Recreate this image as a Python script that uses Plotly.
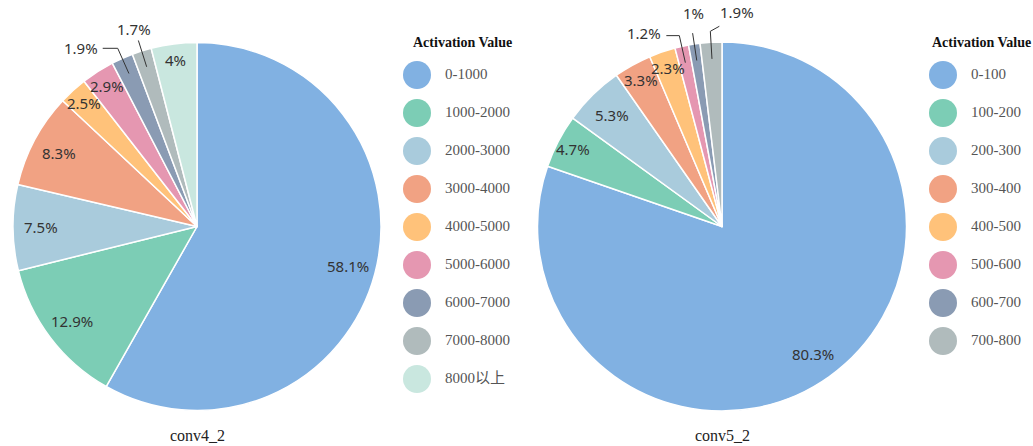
import math
import plotly.graph_objects as go

W, H = 1033, 446

# ---- data -------------------------------------------------------------
ranges4 = ["0-1000", "1000-2000", "2000-3000", "3000-4000", "4000-5000",
           "5000-6000", "6000-7000", "7000-8000", "8000以上"]
share4 = [58.1, 12.9, 7.5, 8.3, 2.5, 2.9, 1.9, 1.7, 4]

ranges5 = ["0-100", "100-200", "200-300", "300-400", "400-500",
           "500-600", "600-700", "700-800"]
share5 = [80.3, 4.7, 5.3, 3.3, 2.3, 1.2, 1, 1.9]

titles = ["conv4_2", "conv5_2"]
legend_title = "Activation Value"

# ---- styling ----------------------------------------------------------
palette = ["#81B1E2", "#7CCDB5", "#A9CBDC", "#F1A283", "#FFC27A",
           "#E597B1", "#8A9BB3", "#B0BBBC", "#C9E7DF"]
SANS = "Noto Sans, Open Sans, sans-serif"
SERIF = "Liberation Serif, Times New Roman, Noto Sans CJK SC, serif"

# pie placement in pixels (centre, radius)
PIES = [dict(cx=197, cy=226.5, r=184), dict(cx=722, cy=226.5, r=184.5)]
# legend placement in pixels
LEG_X = [417, 943]
LEG_TEXT_GAP = 28
LEG_TOP, LEG_STEP = 75, 38
LEG_TITLE_X = [462, 981]

# callout labels for the thin slices: (elbow offset, text offset, xanchor, yanchor)
CALLOUTS = [
    {"6000-7000": ((-15, 0), (-3, 0), "right", "middle"),
     "7000-8000": ((0, 0), (-4, 1), "center", "bottom")},
    {"500-600": ((-13, 0), (-3, -3), "right", "middle"),
     "600-700": ((0, 0), (1, -8), "center", "bottom"),
     "700-800": ((9, -5), (-1, -2), "left", "bottom")},
]


def px2paper(x, y):
    return x / W, 1 - y / H


def polar(pie, theta, frac):
    return (pie["cx"] + frac * pie["r"] * math.sin(theta),
            pie["cy"] - frac * pie["r"] * math.cos(theta))


def mid_angles(values):
    total = sum(values)
    out, cum = [], 0.0
    for v in values:
        out.append((cum + v / 2) / total * 2 * math.pi)
        cum += v
    return out


def pct(v):
    return f"{v:g}%"


def note(x, y, text, font, xanchor="center", yanchor="middle"):
    return dict(x=x, y=y, xref="paper", yref="paper", text=text, showarrow=False,
                xanchor=xanchor, yanchor=yanchor, font=font)


fig = go.Figure()
annotations, shapes = [], []
label_font = dict(family=SANS, size=15, color="#333333")

for k, (cats, vals) in enumerate([(ranges4, share4), (ranges5, share5)]):
    pie = PIES[k]
    x0, y1 = px2paper(pie["cx"] - pie["r"], pie["cy"] - pie["r"])
    x1, y0 = px2paper(pie["cx"] + pie["r"], pie["cy"] + pie["r"])
    fig.add_trace(go.Pie(
        labels=cats, values=vals, sort=False, direction="clockwise",
        rotation=0, textinfo="none", hoverinfo="label+percent",
        marker=dict(colors=palette[:len(cats)], line=dict(color="white", width=1.5)),
        domain=dict(x=[x0, x1], y=[y0, y1]), showlegend=False,
    ))

    total = sum(vals)
    for cat, v, th in zip(cats, vals, mid_angles(vals)):
        if cat in CALLOUTS[k]:
            (ex, ey), (tx, ty), xa, ya = CALLOUTS[k][cat]
            ax_, ay_ = polar(pie, th, 0.91)
            bx, by = polar(pie, th, 1.06)
            cx_, cy_ = bx + ex, by + ey
            pts = [px2paper(ax_, ay_), px2paper(bx, by), px2paper(cx_, cy_)]
            path = "M {} {} L {} {} L {} {}".format(*[c for p in pts for c in p])
            shapes.append(dict(type="path", path=path, xref="paper", yref="paper",
                               line=dict(color="#333333", width=1)))
            lx, ly = px2paper(cx_ + tx, cy_ + ty)
            annotations.append(note(lx, ly, pct(v), label_font, xa, ya))
        else:
            frac = 0.85 if v / total >= 0.05 else 0.91
            lx, ly = px2paper(*polar(pie, th, frac))
            annotations.append(note(lx, ly, pct(v), label_font))

    # chart caption under each pie
    tx, ty = px2paper(pie["cx"], 435)
    annotations.append(note(tx, ty, titles[k],
                            dict(family=SERIF, size=16, color="#222222")))

    # legend: circular swatches with range labels
    idx = list(range(len(cats)))
    fig.add_trace(go.Scatter(
        x=[LEG_X[k]] * len(cats), y=idx, mode="markers",
        marker=dict(size=28, color=palette[:len(cats)], line=dict(width=0)),
        hoverinfo="skip", showlegend=False, cliponaxis=False))
    fig.add_trace(go.Scatter(
        x=[LEG_X[k] + LEG_TEXT_GAP] * len(cats), y=idx, mode="text",
        text=cats, textposition="middle right",
        textfont=dict(family=SERIF, size=15, color="#555555"),
        hoverinfo="skip", showlegend=False, cliponaxis=False))
    gx, gy = px2paper(LEG_TITLE_X[k], 43)
    annotations.append(note(gx, gy, f"<b>{legend_title}</b>",
                            dict(family=SERIF, size=14, color="#111111")))

fig.update_layout(
    width=W, height=H, margin=dict(l=0, r=0, t=0, b=0),
    paper_bgcolor="white", plot_bgcolor="white",
    xaxis=dict(domain=[0, 1], range=[0, W], visible=False, fixedrange=True),
    yaxis=dict(domain=[0, 1], range=[(H - LEG_TOP) / LEG_STEP, -LEG_TOP / LEG_STEP],
               visible=False, fixedrange=True),
    annotations=annotations, shapes=shapes,
)

fig.write_html("out.html")
